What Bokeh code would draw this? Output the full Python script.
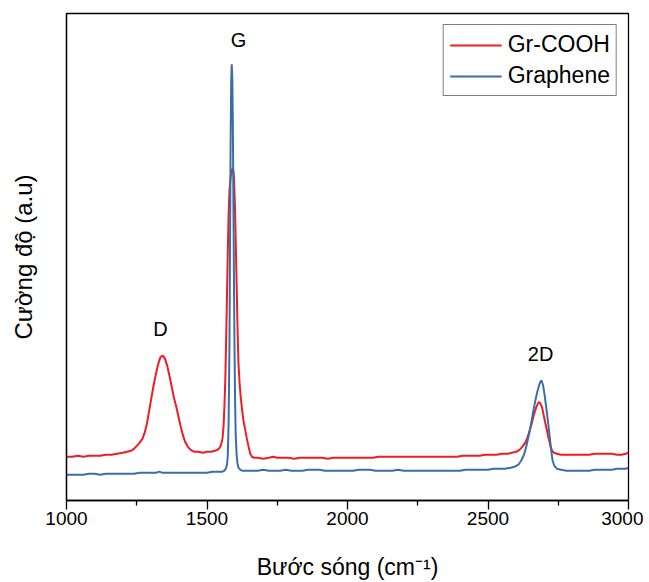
from bokeh.plotting import figure
from bokeh.models import Range1d, FixedTicker, Label, Legend, LegendItem
from bokeh.embed import file_html
from bokeh.resources import INLINE

# ---- data ----
x_tick_values = [1000, 1500, 2000, 2500, 3000]
x_minor_ticks = [1250, 1750, 2250, 2750]

grcooh_x = [1000, 1020, 1040, 1060, 1080, 1100, 1120, 1140, 1160, 1180, 1200, 1215, 1230, 1240,
            1250, 1260, 1270, 1278, 1286, 1294, 1302, 1310, 1318, 1326, 1334, 1342, 1350, 1358,
            1366, 1374, 1382, 1390, 1398, 1406, 1414, 1422, 1432, 1442, 1455, 1470, 1485, 1500,
            1515, 1528, 1538, 1545, 1550, 1555, 1559, 1562, 1565, 1568, 1571, 1574, 1577, 1580,
            1584, 1588, 1592, 1596, 1600, 1603, 1606, 1609, 1612, 1616, 1620, 1625, 1630, 1636,
            1642, 1648, 1654, 1660, 1668, 1680, 1700, 1720, 1735, 1750, 1770, 1790, 1810, 1830,
            1850, 1870, 1890, 1910, 1930, 1950, 1970, 1990, 2010, 2030, 2050, 2070, 2090, 2110,
            2130, 2150, 2170, 2190, 2210, 2230, 2250, 2270, 2290, 2310, 2330, 2350, 2370, 2390,
            2410, 2430, 2450, 2470, 2490, 2510, 2530, 2550, 2570, 2585, 2600, 2612, 2622, 2632,
            2640, 2648, 2656, 2664, 2672, 2680, 2686, 2692, 2698, 2704, 2710, 2716, 2722, 2728,
            2735, 2745, 2760, 2780, 2800, 2820, 2840, 2860, 2880, 2900, 2920, 2940, 2960, 2975,
            2990, 3000]
grcooh_y = [44, 44, 45, 44, 45, 45, 45, 46, 46, 47, 48, 49, 50, 52,
            55, 58, 62, 68, 77, 90, 103, 116, 127, 137, 144, 146, 143, 136,
            126, 115, 104, 95, 85, 75, 66, 59, 54, 51, 49, 49, 48, 49,
            49, 50, 51, 53, 56, 62, 75, 95, 120, 160, 205, 250, 290, 312,
            325, 332, 335, 326, 290, 250, 210, 170, 138, 118, 104, 91, 80, 71,
            62, 54, 47, 44, 43, 43, 42, 43, 44, 43, 43, 43, 42, 43,
            43, 43, 43, 43, 42, 43, 43, 43, 43, 43, 43, 43, 43, 44,
            44, 44, 44, 44, 44, 44, 44, 44, 44, 44, 44, 44, 44, 44,
            45, 45, 45, 45, 46, 46, 46, 47, 47, 48, 49, 51, 54, 58,
            63, 70, 78, 87, 94, 99, 98, 94, 86, 78, 70, 62, 55, 50,
            48, 47, 46, 46, 46, 46, 46, 46, 47, 47, 47, 47, 46, 46,
            47, 48]

graphene_x = [1000, 1020, 1040, 1060, 1080, 1100, 1120, 1140, 1160, 1180, 1200, 1220, 1240, 1260,
              1280, 1300, 1320, 1330, 1340, 1360, 1380, 1400, 1420, 1440, 1460, 1480, 1500, 1520,
              1540, 1555, 1562, 1567, 1571, 1574, 1577, 1580, 1582, 1584, 1586, 1588, 1590, 1592,
              1594, 1596, 1598, 1600, 1602, 1605, 1608, 1612, 1618, 1625, 1640, 1660, 1680, 1700,
              1720, 1740, 1760, 1780, 1800, 1820, 1840, 1860, 1880, 1900, 1920, 1940, 1960, 1980,
              2000, 2020, 2040, 2060, 2080, 2100, 2120, 2140, 2160, 2180, 2200, 2220, 2240, 2260,
              2280, 2300, 2320, 2340, 2360, 2380, 2400, 2420, 2440, 2460, 2480, 2500, 2520, 2540,
              2560, 2580, 2595, 2608, 2618, 2628, 2636, 2644, 2652, 2660, 2668, 2676, 2684, 2690,
              2696, 2702, 2708, 2714, 2720, 2725, 2730, 2736, 2745, 2760, 2780, 2800, 2820, 2840,
              2860, 2880, 2900, 2920, 2940, 2960, 2980, 2990, 3000]
graphene_y = [26, 26, 26, 26, 27, 27, 26, 27, 27, 27, 27, 27, 27, 28,
              28, 28, 28, 29, 28, 28, 28, 28, 28, 28, 28, 28, 28, 29,
              29, 29, 30, 32, 36, 45, 80, 160, 260, 360, 420, 439, 425, 380,
              300, 220, 150, 100, 68, 48, 38, 33, 31, 30, 30, 30, 30, 31,
              30, 30, 30, 31, 30, 30, 30, 31, 31, 31, 30, 30, 30, 30,
              30, 30, 31, 31, 31, 30, 30, 30, 30, 31, 30, 30, 30, 30,
              30, 30, 30, 30, 30, 30, 30, 31, 31, 31, 31, 31, 32, 32,
              32, 33, 34, 36, 40, 46, 54, 64, 75, 88, 100, 110, 118, 121,
              116, 105, 92, 78, 63, 50, 40, 35, 32, 31, 30, 30, 30, 30,
              30, 31, 31, 31, 31, 32, 32, 32, 33]

peak_names = ["D", "G", "2D"]
peak_label_x = [1334, 1612, 2687]
peak_label_y = [173, 463, 147]

FONT = "Liberation Sans"
RED = "#EE1D25"
BLUE = "#3A6EA5"

p = figure(width=643, height=582, output_backend="svg", toolbar_location=None,
           x_range=Range1d(1000, 3000), y_range=Range1d(0, 490),
           min_border_left=66, min_border_right=15, min_border_top=13, min_border_bottom=79)

p.xgrid.visible = False
p.ygrid.visible = False
p.outline_line_color = "black"
p.outline_line_width = 1.3
p.background_fill_color = "white"
p.border_fill_color = "white"

r_red = p.line(grcooh_x, grcooh_y, line_color=RED, line_width=2)
r_blue = p.line(graphene_x, graphene_y, line_color=BLUE, line_width=2)

# x axis
xa = p.xaxis[0]
xa.ticker = FixedTicker(ticks=x_tick_values, minor_ticks=x_minor_ticks)
xa.axis_label = "Bước sóng (cm⁻¹)"
xa.axis_label_text_font = FONT
xa.axis_label_text_font_style = "normal"
xa.axis_label_text_font_size = "23px"
xa.axis_label_text_color = "black"
xa.axis_label_standoff = 26
xa.major_label_text_font = FONT
xa.major_label_text_font_size = "19px"
xa.major_label_text_color = "black"
xa.major_label_standoff = 2
xa.major_tick_out = 9
xa.major_tick_in = 0
xa.minor_tick_out = 5
xa.minor_tick_in = 0
xa.axis_line_width = 1.3
xa.major_tick_line_width = 1.3
xa.minor_tick_line_width = 1.3
xa.axis_line_color = "black"

# y axis (no ticks)
ya = p.yaxis[0]
ya.ticker = FixedTicker(ticks=[])
ya.axis_label = "Cường độ (a.u)"
ya.axis_label_text_font = FONT
ya.axis_label_text_font_style = "normal"
ya.axis_label_text_font_size = "24px"
ya.axis_label_text_color = "black"
ya.axis_label_standoff = 30
ya.major_tick_out = 0
ya.major_tick_in = 0
ya.minor_tick_out = 0
ya.minor_tick_in = 0
ya.axis_line_width = 1.3
ya.axis_line_color = "black"

for name, lx, ly in zip(peak_names, peak_label_x, peak_label_y):
    p.add_layout(Label(x=lx, y=ly, text=name, text_font=FONT, text_font_size="20px",
                       text_align="center", text_baseline="middle", text_color="black"))

legend = Legend(items=[LegendItem(label="Gr-COOH", renderers=[r_red]),
                       LegendItem(label="Graphene", renderers=[r_blue])],
                location="top_right")
legend.margin = 11
legend.padding = 6
legend.spacing = 4
legend.glyph_width = 52
legend.glyph_height = 26
legend.label_height = 26
legend.label_standoff = 6
legend.label_text_font = FONT
legend.label_text_font_size = "23px"
legend.label_text_color = "black"
legend.border_line_color = "black"
legend.border_line_width = 1.2
legend.background_fill_alpha = 1.0
p.add_layout(legend)

open("out.html", "w").write(file_html(p, INLINE))
